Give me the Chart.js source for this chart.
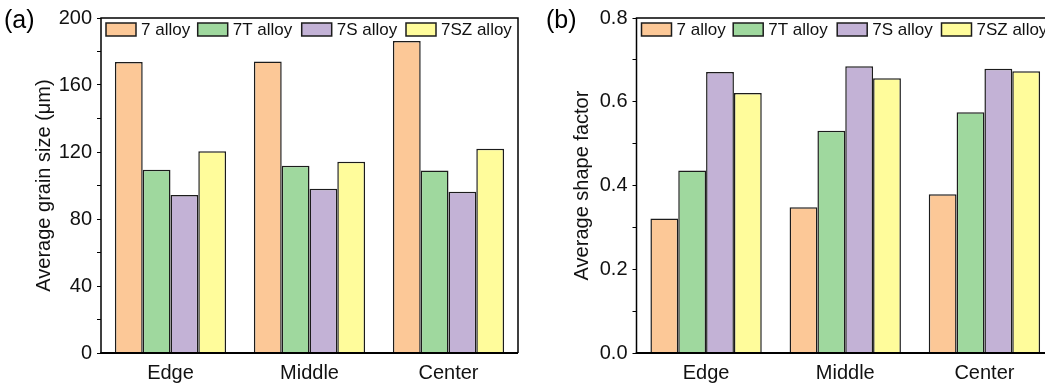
<!DOCTYPE html>
<html>
<head>
<meta charset="utf-8">
<script src="https://cdn.jsdelivr.net/npm/chart.js@4.4.0/dist/chart.umd.min.js"></script>
<style>
  html, body { margin: 0; padding: 0; background: #fff; overflow: hidden; width: 1045px; height: 385px; }
  #wa { position: absolute; left: 0; top: 0; }
  #wb { position: absolute; left: 525px; top: 0; }
</style>
</head>
<body>
<div id="wa"><canvas id="ca" width="525" height="385"></canvas></div>
<div id="wb"><canvas id="cb" width="536" height="385"></canvas></div>
<script>
// ---- data ----
const categories = ['Edge', 'Middle', 'Center'];
const seriesLabels = ['7 alloy', '7T alloy', '7S alloy', '7SZ alloy'];
const seriesColors = ['#FCC897', '#9FD89E', '#C3B2D6', '#FFFC9B'];

const grain7   = [173.7, 174.0, 186.3];
const grain7T  = [109.4, 111.8, 109.0];
const grain7S  = [94.3, 98.1, 96.3];
const grain7SZ = [120.4, 114.2, 122.0];

const shape7   = [0.321, 0.348, 0.379];
const shape7T  = [0.436, 0.531, 0.575];
const shape7S  = [0.671, 0.685, 0.679];
const shape7SZ = [0.621, 0.656, 0.673];

const grainTickLabels = [0, 40, 80, 120, 160, 200];
const shapeTickLabels = [0.0, 0.2, 0.4, 0.6, 0.8];

const FONT = "'Liberation Sans', Arial, sans-serif";

function makeDatasets(arrs) {
  return arrs.map((d, i) => ({
    label: seriesLabels[i],
    data: d,
    backgroundColor: seriesColors[i],
    borderColor: '#1c1c1c',
    borderWidth: 1.5,
    categoryPercentage: 0.8,
    barPercentage: 1.0
  }));
}

function decoPlugin(panelLabel, labelX, legendOffsets) {
  return {
    id: 'deco',
    afterDraw(chart) {
      const ctx = chart.ctx;
      const a = chart.chartArea;
      ctx.save();
      // frame
      ctx.strokeStyle = '#000';
      ctx.lineWidth = 1.5;
      ctx.beginPath();
      ctx.moveTo(a.left, a.bottom);
      ctx.lineTo(a.left, a.top);
      ctx.lineTo(a.right, a.top);
      ctx.lineTo(a.right, a.bottom);
      ctx.stroke();
      ctx.lineWidth = 2;
      ctx.beginPath();
      ctx.moveTo(a.left - 0.75, a.bottom);
      ctx.lineTo(a.right, a.bottom);
      ctx.stroke();
      // legend inside
      ctx.font = '17px ' + FONT;
      ctx.textBaseline = 'middle';
      ctx.textAlign = 'left';
      const by = a.top + 5;
      const bw = 30, bh = 13;
      chart.data.datasets.forEach((ds, i) => {
        const x = a.left + legendOffsets[i];
        ctx.fillStyle = ds.backgroundColor;
        ctx.fillRect(x, by, bw, bh);
        ctx.strokeStyle = '#1c1c1c';
        ctx.lineWidth = 1.5;
        ctx.strokeRect(x, by, bw, bh);
        ctx.fillStyle = '#111';
        ctx.fillText(ds.label, x + bw + 5, by + bh / 2 + 0.5);
      });
      // panel label
      ctx.font = '25px ' + FONT;
      ctx.textBaseline = 'alphabetic';
      ctx.fillStyle = '#000';
      ctx.fillText(panelLabel, labelX, 28);
      ctx.restore();
    }
  };
}

function makeChart(id, arrs, yMax, yStep, tickLabels, fmt, title, yWidth, titlePad, panelLabel, labelX, legendOffsets) {
  return new Chart(document.getElementById(id), {
    type: 'bar',
    data: { labels: categories, datasets: makeDatasets(arrs) },
    options: {
      responsive: false,
      animation: false,
      devicePixelRatio: 1,
      layout: { padding: { top: 18, right: 7, left: 0, bottom: 0 } },
      plugins: { legend: { display: false }, tooltip: { enabled: false } },
      scales: {
        x: {
          type: 'category',
          offset: true,
          grid: { display: false, drawTicks: false },
          border: { display: false },
          ticks: { color: '#111', font: { family: FONT, size: 20 }, padding: 8 },
          afterFit(s) { s.height = 32; }
        },
        y: {
          min: 0,
          max: yMax,
          grid: { display: true, drawOnChartArea: false, drawTicks: true, tickLength: 4, color: '#000', lineWidth: 1 },
          border: { display: false },
          ticks: {
            stepSize: yStep,
            autoSkip: false,
            color: '#111',
            padding: 5,
            font: { family: FONT, size: 20 },
            callback(v) {
              const hit = tickLabels.some(t => Math.abs(t - v) < 1e-9);
              return hit ? fmt(v) : '';
            }
          },
          title: {
            display: true,
            text: title,
            color: '#111',
            font: { family: FONT, size: 20 },
            padding: { top: titlePad, bottom: 0 }
          },
          afterFit(s) { s.width = yWidth; }
        }
      }
    },
    plugins: [decoPlugin(panelLabel, labelX, legendOffsets)]
  });
}

makeChart('ca', [grain7, grain7T, grain7S, grain7SZ], 200, 20, grainTickLabels,
  v => String(Math.round(v)), 'Average grain size (\u03bcm)', 101, 32, '(a)', 4,
  [5, 96.7, 200.7, 305]);
makeChart('cb', [shape7, shape7T, shape7S, shape7SZ], 0.8, 0.1, shapeTickLabels,
  v => v.toFixed(1), 'Average shape factor', 111.5, 45, '(b)', 21,
  [5, 96.7, 200.7, 305]);
</script>
</body>
</html>
